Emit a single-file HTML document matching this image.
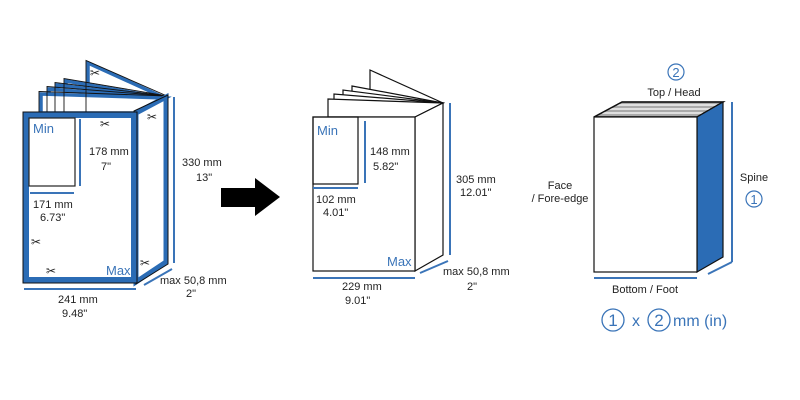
<!DOCTYPE html>
<html><head><meta charset="utf-8"><style>
html,body{margin:0;padding:0;background:#fff;}
svg{display:block;}
text{font-family:"Liberation Sans",sans-serif;font-size:11px;fill:#222;}
.b{fill:#3a74b8;}
</style></head><body>
<svg width="800" height="400" viewBox="0 0 800 400" xmlns="http://www.w3.org/2000/svg">
<g stroke-linejoin="miter">
<!-- LEFT BOOK pages -->
<g fill="#fff" stroke="#2b6cb5" stroke-width="3.5">
<polygon points="88,113 88,63 165,98 136,113"/>
<polygon points="66,113 66,81 165,98 136,113"/>
<polygon points="57,113 57,85 165,98 136,113"/>
<polygon points="49,113 49,89 165,98 136,113"/>
<polygon points="41,113 41,94 165,98 136,113"/>
</g>
<g fill="none" stroke="#111" stroke-width="0.9">
<polyline points="86,113 86,60.5 167,96"/>
<polyline points="64,113 64,78.5 167,96"/>
<polyline points="55,113 55,82.5 167,96"/>
<polyline points="47,113 47,86.5 167,96"/>
<polyline points="39,113 39,91.5 167,96"/>
</g>
<polygon points="136,113 166,97 166,262 136,282" fill="#fff" stroke="#2b6cb5" stroke-width="5"/>
<polygon points="134,111 168,95 168,264 136,284" fill="none" stroke="#111" stroke-width="1"/>
<rect x="26" y="115" width="108" height="165" fill="#fff" stroke="#2b6cb5" stroke-width="6"/>
<rect x="23" y="112" width="114" height="171" fill="none" stroke="#111" stroke-width="1"/>
<rect x="29" y="118" width="46" height="68" fill="none" stroke="#222" stroke-width="1.2"/>
<line x1="80" y1="119" x2="80" y2="186" stroke="#3a74b8" stroke-width="2"/>
<line x1="30" y1="193" x2="74" y2="193" stroke="#3a74b8" stroke-width="2"/>
<line x1="174" y1="97" x2="174" y2="263" stroke="#3a74b8" stroke-width="2"/>
<line x1="144" y1="285" x2="172" y2="269" stroke="#3a74b8" stroke-width="2"/>
<line x1="24" y1="289" x2="136" y2="289" stroke="#3a74b8" stroke-width="2"/>
<g fill="#111">
<text x="90" y="77" style="font-size:12px">✂</text>
<text x="100" y="128" style="font-size:12px">✂</text>
<text x="147" y="121" style="font-size:12px">✂</text>
<text x="31" y="246" style="font-size:12px">✂</text>
<text x="46" y="275" style="font-size:12px">✂</text>
<text x="140" y="267" style="font-size:12px">✂</text>
</g>
</g>
<text x="33" y="133" class="b" style="font-size:13px">Min</text>
<text x="106" y="275" class="b" style="font-size:13px">Max</text>
<text x="89" y="155">178 mm</text><text x="101" y="170">7"</text>
<text x="33" y="208">171 mm</text><text x="40" y="221">6.73"</text>
<text x="182" y="166">330 mm</text><text x="196" y="181">13"</text>
<text x="160" y="284">max 50,8 mm</text><text x="186" y="297">2"</text>
<text x="58" y="303">241 mm</text><text x="62" y="317">9.48"</text>

<!-- ARROW -->
<polygon points="221,188 255,188 255,178 280,197 255,216 255,207 221,207" fill="#000"/>

<!-- MIDDLE BOOK -->
<g fill="#fff" stroke="#111" stroke-width="1.2">
<polygon points="370,117 370,70 443,103 415,117"/>
<polygon points="352,117 352,86 443,103 415,117"/>
<polygon points="343,117 343,90 443,103 415,117"/>
<polygon points="334,117 334,94 443,103 415,117"/>
<polygon points="328,117 328,99 443,103 415,117"/>
<polygon points="415,117 443,103 443,255 415,271"/>
<rect x="313" y="117" width="102" height="154"/>
<rect x="313" y="117" width="45" height="67" fill="none"/>
</g>
<line x1="365" y1="121" x2="365" y2="183" stroke="#3a74b8" stroke-width="2"/>
<line x1="313" y1="188" x2="358" y2="188" stroke="#3a74b8" stroke-width="2"/>
<line x1="450" y1="103" x2="450" y2="255" stroke="#3a74b8" stroke-width="2"/>
<line x1="420" y1="273" x2="448" y2="261" stroke="#3a74b8" stroke-width="2"/>
<line x1="313" y1="278" x2="415" y2="278" stroke="#3a74b8" stroke-width="2"/>
<text x="317" y="135" class="b" style="font-size:13px">Min</text>
<text x="387" y="266" class="b" style="font-size:13px">Max</text>
<text x="370" y="155">148 mm</text><text x="373" y="170">5.82"</text>
<text x="316" y="203">102 mm</text><text x="323" y="216">4.01"</text>
<text x="456" y="183">305 mm</text><text x="460" y="196">12.01"</text>
<text x="443" y="275">max 50,8 mm</text><text x="467" y="290">2"</text>
<text x="342" y="290">229 mm</text><text x="345" y="304">9.01"</text>

<!-- RIGHT BOOK -->
<polygon points="594,117 622,102 723,102 697,117" fill="#aaa" stroke="#111" stroke-width="1.2"/>
<g stroke="#fff" stroke-width="1.2">
<line x1="602" y1="113" x2="703" y2="113"/>
<line x1="609" y1="109" x2="710" y2="109"/>
<line x1="616" y1="105" x2="717" y2="105"/>
</g>
<polygon points="594,117 622,102 723,102 697,117" fill="none" stroke="#111" stroke-width="1.5"/>
<polygon points="697,117 723,102 723,257 697,272" fill="#2b6cb5" stroke="#111" stroke-width="1.2"/>
<rect x="594" y="117" width="103" height="155" fill="#fff" stroke="#111" stroke-width="1.2"/>
<line x1="732" y1="102" x2="732" y2="262" stroke="#3a74b8" stroke-width="2"/>
<line x1="708" y1="274" x2="732" y2="262" stroke="#3a74b8" stroke-width="2"/>
<line x1="594" y1="278" x2="697" y2="278" stroke="#3a74b8" stroke-width="2"/>
<text x="645" y="293" text-anchor="middle">Bottom / Foot</text>
<text x="674" y="96" text-anchor="middle">Top / Head</text>
<circle cx="676" cy="72" r="8" fill="none" stroke="#3a74b8" stroke-width="1.2"/>
<text x="676" y="77" text-anchor="middle" class="b" style="font-size:13px">2</text>
<text x="560" y="189" text-anchor="middle">Face</text>
<text x="560" y="202" text-anchor="middle">/ Fore-edge</text>
<text x="754" y="181" text-anchor="middle">Spine</text>
<circle cx="754" cy="199" r="8" fill="none" stroke="#3a74b8" stroke-width="1.2"/>
<text x="754" y="204" text-anchor="middle" class="b" style="font-size:13px">1</text>
<circle cx="613" cy="320" r="11" fill="none" stroke="#3a74b8" stroke-width="1.3"/>
<text x="613" y="326" text-anchor="middle" class="b" style="font-size:17px">1</text>
<text x="636" y="326" text-anchor="middle" class="b" style="font-size:16px">x</text>
<circle cx="659" cy="320" r="11" fill="none" stroke="#3a74b8" stroke-width="1.3"/>
<text x="659" y="326" text-anchor="middle" class="b" style="font-size:17px">2</text>
<text x="673" y="326" class="b" style="font-size:16px">mm (in)</text>
</svg>
</body></html>
